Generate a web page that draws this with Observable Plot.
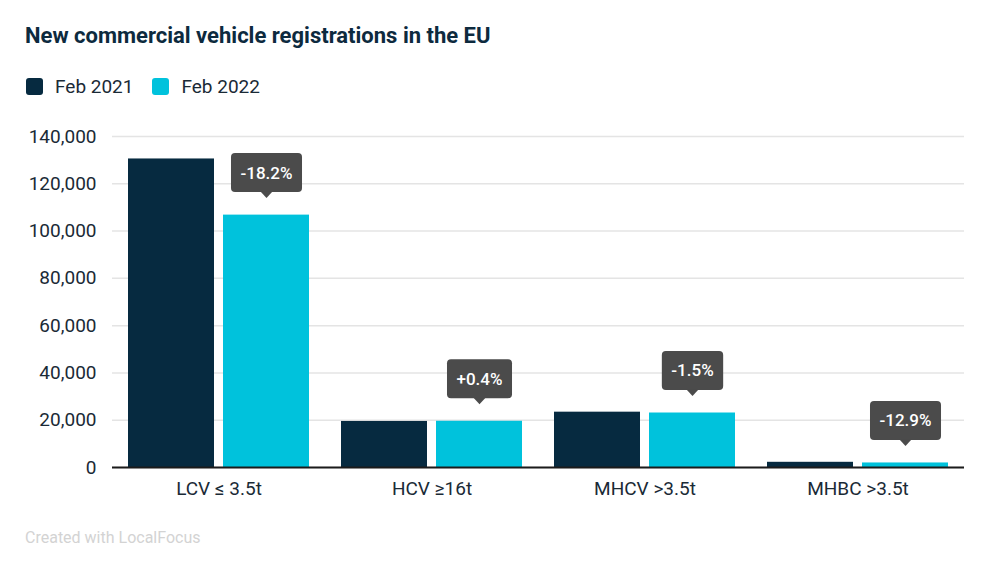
<!DOCTYPE html>
<html><head><meta charset="utf-8">
<script src="https://cdn.jsdelivr.net/npm/d3@7"></script>
<script src="https://cdn.jsdelivr.net/npm/@observablehq/plot@0.6"></script>
<style>
body{margin:0;background:#fff;font-family:Roboto,sans-serif;}
#wrap{position:relative;width:1000px;height:586px;overflow:hidden;background:#fff}
#title{position:absolute;left:25px;top:23px;font-size:22px;font-weight:700;color:#0d2a3e;white-space:nowrap}
#legend{position:absolute;left:26px;top:75px;display:flex;align-items:center;font-size:19px;color:#1a2a36;white-space:nowrap}
.sw{width:17px;height:17px;border-radius:3px;margin-right:12px}
.item{display:flex;align-items:center;margin-right:19px}
#chart{position:absolute;left:0;top:110px}
#foot{position:absolute;left:25px;top:528px;font-size:16px;color:#d3d3d3;white-space:nowrap}
</style>
</head><body>
<div id="wrap">
  <div id="title">New commercial vehicle registrations in the EU</div>
  <div id="legend"></div>
  <div id="chart"></div>
  <div id="foot">Created with LocalFocus</div>
</div>
<script>
const categories = ["LCV ≤ 3.5t", "HCV ≥16t", "MHCV >3.5t", "MHBC >3.5t"];
const series = ["Feb 2021", "Feb 2022"];
const feb2021 = [130500, 19480, 23400, 2200];
const feb2022 = [106750, 19560, 23050, 1920];
const changes = ["-18.2%", "+0.4%", "-1.5%", "-12.9%"];
const yTicks = [0, 20000, 40000, 60000, 80000, 100000, 120000, 140000];
const colors = ["#062a40", "#00c2dc"];

// legend
const legend = document.getElementById("legend");
series.forEach((s, i) => {
  const item = document.createElement("div");
  item.className = "item";
  const sw = document.createElement("div");
  sw.className = "sw";
  sw.style.background = colors[i];
  const lab = document.createElement("span");
  lab.textContent = s;
  item.append(sw, lab);
  legend.append(item);
});

const rows = categories.flatMap((c, i) => [
  {category: c, series: series[0], value: feb2021[i]},
  {category: c, series: series[1], value: feb2022[i]}
]);
const notes = categories.map((c, i) => ({category: c, series: series[1], value: feb2022[i], label: changes[i]}));

const plot = Plot.plot({
  width: 1000, height: 400,
  marginTop: 26, marginBottom: 43, marginLeft: 110, marginRight: 35,
  style: {fontFamily: "Roboto, sans-serif", color: "#1a2a36", background: "transparent", overflow: "visible"},
  fx: {domain: categories, paddingInner: 0, paddingOuter: 0, label: null},
  x: {domain: series, paddingInner: 0.09375, paddingOuter: 0.16, axis: null},
  y: {domain: [0, 140000], label: null},
  color: {domain: series, range: colors},
  marks: [
    Plot.gridY(yTicks, {stroke: "#e4e4e4", strokeOpacity: 1, strokeWidth: 1.5}),
    Plot.axisY(yTicks, {tickSize: 0, tickPadding: 16, fontSize: 19, tickFormat: d3.format(","), label: null}),
    Plot.axisFx({anchor: "bottom", tickSize: 0, tickPadding: 14, fontSize: 19, label: null}),
    Plot.barY(rows, {fx: "category", x: "series", y: "value", fill: "series"}),
    Plot.ruleY([0], {stroke: "#1b1b1b", strokeWidth: 2}),
    Plot.text(notes, {fx: "category", x: "series", y: "value", text: "label", dy: -42, fill: "#ffffff", fontSize: 17, fontWeight: 500})
  ]
});
document.getElementById("chart").append(plot);

// tooltip-style boxes behind the change labels
const ns = "http://www.w3.org/2000/svg";
plot.querySelectorAll('g[aria-label="text"] text').forEach(t => {
  const b = t.getBBox();
  const g = document.createElementNS(ns, "g");
  const tr = t.getAttribute("transform");
  if (tr) g.setAttribute("transform", tr);
  const cx = b.x + b.width / 2, cy = b.y + b.height / 2;
  const w = b.width + 19, h = 39;
  const r = document.createElementNS(ns, "rect");
  r.setAttribute("x", cx - w / 2); r.setAttribute("y", cy - h / 2);
  r.setAttribute("width", w); r.setAttribute("height", h);
  r.setAttribute("rx", 4); r.setAttribute("fill", "#4b4b4b");
  const p = document.createElementNS(ns, "path");
  p.setAttribute("d", `M${cx - 6},${cy + h / 2 - 0.5}L${cx + 6},${cy + h / 2 - 0.5}L${cx},${cy + h / 2 + 6}Z`);
  p.setAttribute("fill", "#4b4b4b");
  g.append(r, p);
  t.parentNode.insertBefore(g, t);
});
</script>
</body></html>
